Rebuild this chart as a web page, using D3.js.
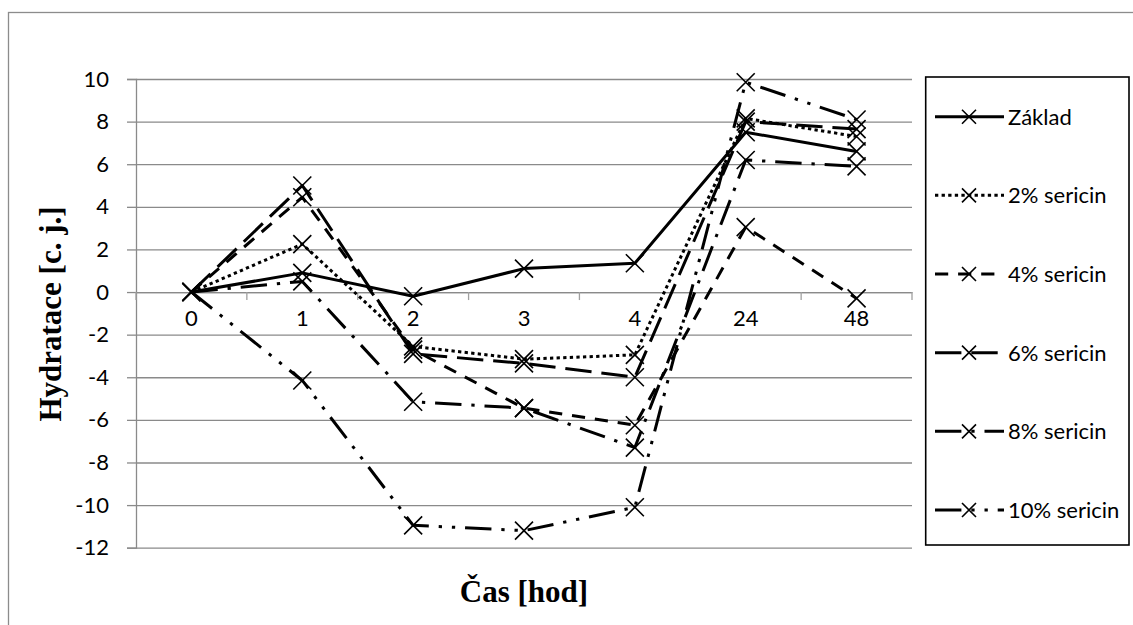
<!DOCTYPE html>
<html>
<head>
<meta charset="utf-8">
<script src="https://cdn.jsdelivr.net/npm/d3@7"></script>
<style>
  html, body { margin: 0; padding: 0; background: #fff; }
  svg { display: block; }
</style>
</head>
<body>
<svg id="chart" width="1133" height="625"></svg>
<script>
// Time points (hours) on the category axis
const categories = ["0", "1", "2", "3", "4", "24", "48"];

// Hydration change per formulation
const seriesNames = ["Základ", "2% sericin", "4% sericin", "6% sericin", "8% sericin", "10% sericin"];
const zaklad    = [0, 0.9, -0.2, 1.1, 1.35, 7.5, 6.6];
const sericin2  = [0, 2.25, -2.55, -3.15, -2.95, 8.15, 7.3];
const sericin4  = [0, 4.45, -2.7, -5.45, -6.25, 3.05, -0.3];
const sericin6  = [0, 5.0, -2.9, -3.35, -4.0, 8.0, 7.65];
const sericin8  = [0, 0.5, -5.15, -5.45, -7.3, 6.2, 5.9];
const sericin10 = [0, -4.15, -10.95, -11.2, -10.1, 9.85, 8.1];
const seriesValues = [zaklad, sericin2, sericin4, sericin6, sericin8, sericin10];

// Value axis ticks
const yTicks = [-12, -10, -8, -6, -4, -2, 0, 2, 4, 6, 8, 10];

const xTitle = "Čas [hod]";
const yTitle = "Hydratace [c. j.]";

// Line dash styles (unit = one line width)
const u = 3.3;
const dashStyles = [
  null,
  [u, u],
  [4 * u, 3 * u],
  [8 * u, 3 * u],
  [8 * u, 3 * u, u, 3 * u],
  [8 * u, 3 * u, u, 3 * u, u, 3 * u]
];

const svg = d3.select("#chart");
const plot = { left: 136, right: 912, top: 79, bottom: 547.7 };
const gridColor = "#8a8a8a";
const tickFont = "Lato, 'Open Sans', sans-serif";
const titleFont = "'Liberation Serif', 'Times New Roman', serif";

// Outer chart frame (top and left edges visible)
svg.append("rect")
  .attr("x", 8.5).attr("y", 12.5)
  .attr("width", 1200).attr("height", 700)
  .attr("fill", "none").attr("stroke", "#8c8c8c").attr("stroke-width", 1.3);

const x = d3.scaleBand().domain(categories).range([plot.left, plot.right]).paddingInner(0).paddingOuter(0);
const y = d3.scaleLinear().domain([-12, 10]).range([plot.bottom, plot.top]);

// Horizontal gridlines
svg.append("g")
  .attr("transform", `translate(${plot.left},0)`)
  .call(d3.axisLeft(y).tickValues(yTicks).tickSize(-(plot.right - plot.left)).tickFormat(""))
  .call(g => g.select(".domain").remove())
  .call(g => g.selectAll("line").attr("stroke", gridColor).attr("stroke-width", 1.3));

// Vertical value axis with labels
svg.append("g")
  .attr("transform", `translate(${plot.left},0)`)
  .call(d3.axisLeft(y).tickValues(yTicks).tickSize(9).tickPadding(18).tickFormat(d3.format("d")))
  .call(g => g.select(".domain").attr("stroke", gridColor).attr("stroke-width", 1.3))
  .call(g => g.selectAll("line").attr("stroke", gridColor).attr("stroke-width", 1.3))
  .call(g => g.selectAll("text")
    .attr("font-family", tickFont).attr("font-size", 22).attr("fill", "#000")
    .text(d => d < 0 ? "-" + Math.abs(d) : d));

// Category axis crossing at zero
const xAxisG = svg.append("g").attr("transform", `translate(0,${y(0)})`);
xAxisG.call(d3.axisBottom(x).tickSize(0).tickPadding(18))
  .call(g => g.select(".domain").attr("stroke", gridColor).attr("stroke-width", 1.3))
  .call(g => g.selectAll("text")
    .attr("font-family", tickFont).attr("font-size", 22).attr("fill", "#000"));
// Tick marks between categories
const boundaries = d3.range(categories.length + 1).map(i => x.range()[0] + i * x.step());
xAxisG.selectAll("line.boundary").data(boundaries).join("line")
  .attr("class", "boundary")
  .attr("x1", d => d).attr("x2", d => d)
  .attr("y1", 0).attr("y2", 8)
  .attr("stroke", "#a0a0a0").attr("stroke-width", 1.3);

// Series lines and markers
const line = d3.line()
  .x((d, i) => x(categories[i]) + x.bandwidth() / 2)
  .y(d => y(d));

function xMarker(g, cx, cy, r) {
  g.append("path")
    .attr("d", `M${cx - r},${cy - r}L${cx + r},${cy + r}M${cx - r},${cy + r}L${cx + r},${cy - r}`)
    .attr("stroke", "#000").attr("stroke-width", 1.6).attr("fill", "none");
}

seriesValues.forEach((vals, s) => {
  const g = svg.append("g").attr("class", "series");
  g.append("path")
    .datum(vals)
    .attr("d", line)
    .attr("fill", "none")
    .attr("stroke", "#000")
    .attr("stroke-width", 3)
    .attr("stroke-linejoin", "round")
    .attr("stroke-dasharray", dashStyles[s] ? dashStyles[s].join(",") : null);
  vals.forEach((v, i) => {
    xMarker(g, x(categories[i]) + x.bandwidth() / 2, y(v), 9);
  });
});

// Legend
const legend = { x: 925.7, y: 77, w: 203.3, h: 468 };
svg.append("rect")
  .attr("x", legend.x).attr("y", legend.y)
  .attr("width", legend.w).attr("height", legend.h)
  .attr("fill", "#fff").attr("stroke", "#000").attr("stroke-width", 1.6);

const legendRow = d3.scaleLinear().domain([0, seriesNames.length - 1]).range([116.7, 510]);
seriesNames.forEach((name, s) => {
  const cy = legendRow(s);
  const g = svg.append("g");
  g.append("line")
    .attr("x1", 935).attr("x2", 1004)
    .attr("y1", cy).attr("y2", cy)
    .attr("stroke", "#000").attr("stroke-width", 3)
    .attr("stroke-dasharray", dashStyles[s] ? dashStyles[s].join(",") : null);
  xMarker(g, 969, cy, 7);
  g.append("text")
    .attr("x", 1008).attr("y", cy).attr("dy", "0.36em")
    .attr("font-family", tickFont).attr("font-size", 22).attr("fill", "#000")
    .text(name);
});

// Axis titles
svg.append("text")
  .attr("x", (plot.left + plot.right) / 2).attr("y", 602)
  .attr("text-anchor", "middle")
  .attr("font-family", titleFont).attr("font-weight", "bold").attr("font-size", 31)
  .attr("fill", "#000")
  .text(xTitle);

svg.append("text")
  .attr("transform", "translate(61,314) rotate(-90)")
  .attr("text-anchor", "middle")
  .attr("font-family", titleFont).attr("font-weight", "bold").attr("font-size", 31)
  .attr("fill", "#000")
  .text(yTitle);
</script>
</body>
</html>
